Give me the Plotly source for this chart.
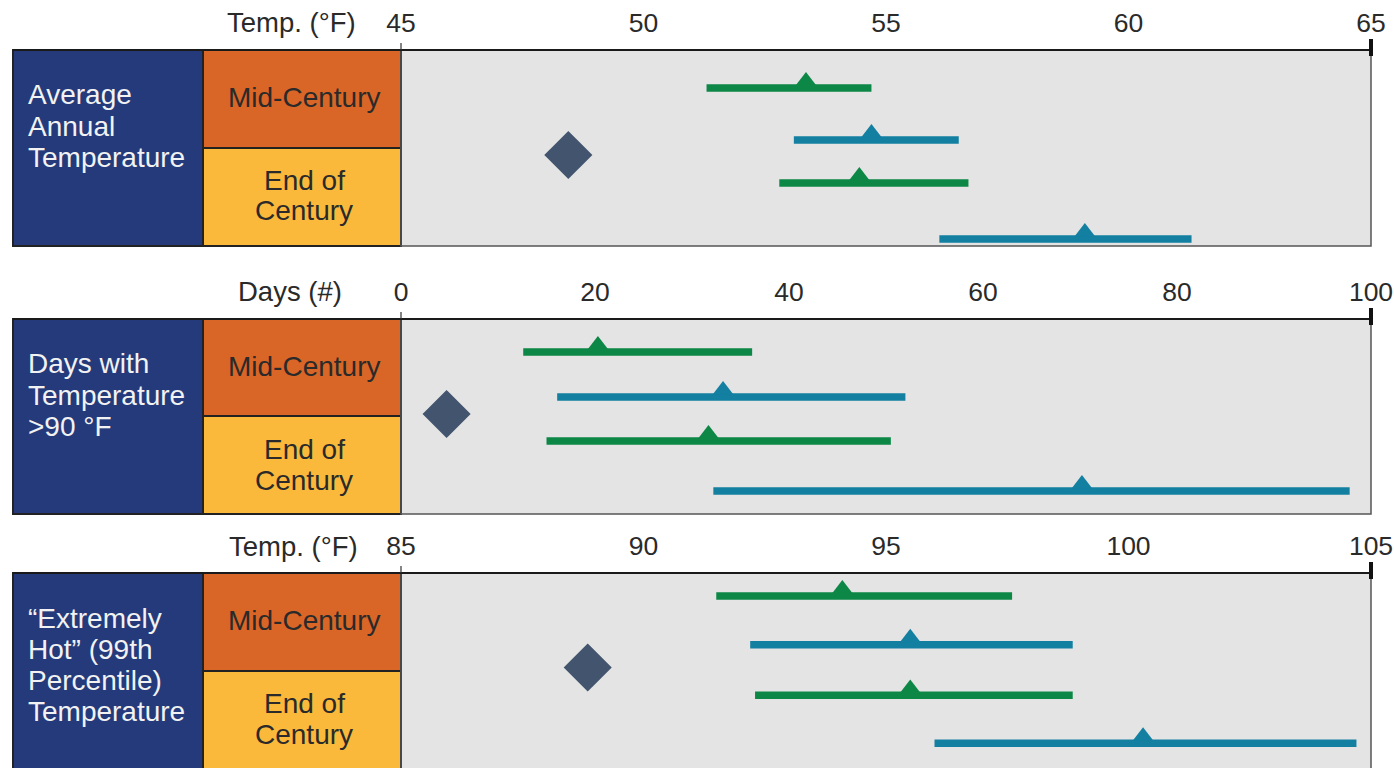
import plotly.graph_objects as go

# ---------------------------------------------------------------- data
panel_titles = [
    ["Average", "Annual", "Temperature"],
    ["Days with", "Temperature", ">90 °F"],
    ["“Extremely", "Hot” (99th", "Percentile)", "Temperature"],
]
axis_titles = ["Temp. (°F)", "Days (#)", "Temp. (°F)"]
period_mid = "Mid-Century"
period_end = ["End of", "Century"]

axis_ranges = [(45, 65), (0, 100), (85, 105)]
tick_values = [
    [45, 50, 55, 60, 65],
    [0, 20, 40, 60, 80, 100],
    [85, 90, 95, 100, 105],
]

# observed baseline per indicator
baseline = [48.45, 4.7, 88.85]

# projection rows per indicator:
# mid-century lower, mid-century higher, end-of-century lower, end-of-century higher
range_low = [
    [51.3, 53.1, 52.8, 56.1],
    [12.6, 16.1, 15.0, 32.2],
    [91.5, 92.2, 92.3, 96.0],
]
range_high = [
    [54.7, 56.5, 56.7, 61.3],
    [36.2, 52.0, 50.5, 97.8],
    [97.6, 98.85, 98.85, 104.7],
]
range_median = [
    [53.35, 54.7, 54.45, 59.1],
    [20.3, 33.2, 31.7, 70.2],
    [94.1, 95.5, 95.5, 100.3],
]
scenario_of_row = ["lower", "higher", "lower", "higher"]

# ---------------------------------------------------------------- layout / style
W, H = 1394, 768
FONT = "Liberation Sans, Arial, sans-serif"
FS = 28

C_TITLE_BOX = "#243a7b"
C_MID_BOX = "#d96627"
C_END_BOX = "#fbb93b"
C_PLOT_BG = "#e4e4e4"
C_SCEN = {"lower": "#0c8746", "higher": "#137fa1"}
C_BASE = "#42546e"
C_TEXT = "#2a2a2a"

X_LEFT, X_SPLIT, X_PLOT0, X_PLOT1 = 13, 203, 401, 1371
panel_top = [50, 319, 573]
panel_bot = [246, 514, 769]
split_y = [148, 416, 671]
ROW_Y = [[38, 90, 133, 189], [33, 78, 122, 172], [23, 72, 123, 171]]
BASE_Y = [105, 95, 95]
TITLE_RIGHT = [358, 344, 360]
TRI_LIFT = 7


def px(x):
    return x / W


def py(y):
    return 1 - y / H


fig = go.Figure()
shapes = []
annotations = []

for i in range(3):
    top = panel_top[i]
    height = panel_bot[i] - panel_top[i]
    sfx = "" if i == 0 else str(i + 1)
    xa, ya = "x" + sfx, "y" + sfx
    lo, hi = axis_ranges[i]

    # projected ranges as thick horizontal bars with a median marker
    for r in range(4):
        col = C_SCEN[scenario_of_row[r]]
        y_row = ROW_Y[i][r]
        fig.add_trace(go.Scatter(
            x=[range_low[i][r], range_high[i][r]], y=[y_row, y_row],
            mode="lines", line=dict(color=col, width=7.5),
            xaxis=xa, yaxis=ya, showlegend=False, hoverinfo="skip"))
        fig.add_trace(go.Scatter(
            x=[range_median[i][r]], y=[y_row - TRI_LIFT],
            mode="markers",
            marker=dict(symbol="triangle-up", size=18, color=col, line=dict(width=0)),
            xaxis=xa, yaxis=ya, showlegend=False, hoverinfo="skip"))

    # observed baseline
    fig.add_trace(go.Scatter(
        x=[baseline[i]], y=[BASE_Y[i]], mode="markers",
        marker=dict(symbol="diamond", size=37, color=C_BASE, line=dict(width=0)),
        xaxis=xa, yaxis=ya, showlegend=False, hoverinfo="skip"))

    dom_y = [max(py(panel_bot[i]), 0), py(top)]
    fig.layout["xaxis" + sfx] = dict(
        domain=[px(X_PLOT0), px(X_PLOT1)], range=[lo, hi], anchor=ya,
        side="top", tickvals=tick_values[i], ticks="", showgrid=False,
        zeroline=False, showline=False, fixedrange=True, automargin=False,
        tickfont=dict(family=FONT, size=26.5, color=C_TEXT),
        ticklabelstandoff=12)
    fig.layout["yaxis" + sfx] = dict(
        domain=dom_y, range=[height, 0], anchor=xa, visible=False,
        showgrid=False, zeroline=False, fixedrange=True, automargin=False)

    split = split_y[i]
    # label boxes
    shapes.append(dict(type="rect", xref="paper", yref="paper",
                       x0=px(X_LEFT), x1=px(X_SPLIT), y0=py(panel_bot[i]), y1=py(top),
                       fillcolor=C_TITLE_BOX, line=dict(color="#222", width=2), layer="below"))
    shapes.append(dict(type="rect", xref="paper", yref="paper",
                       x0=px(X_SPLIT), x1=px(X_PLOT0), y0=py(split), y1=py(top),
                       fillcolor=C_MID_BOX, line=dict(color="#222", width=2), layer="below"))
    shapes.append(dict(type="rect", xref="paper", yref="paper",
                       x0=px(X_SPLIT), x1=px(X_PLOT0), y0=py(panel_bot[i]), y1=py(split),
                       fillcolor=C_END_BOX, line=dict(color="#222", width=2), layer="below"))
    # plot frame
    shapes.append(dict(type="rect", xref="paper", yref="paper",
                       x0=px(X_PLOT0), x1=px(X_PLOT1), y0=py(panel_bot[i]), y1=py(top),
                       fillcolor="rgba(0,0,0,0)", line=dict(color="#555", width=1.5)))
    # top axis line across the whole panel
    shapes.append(dict(type="line", xref="paper", yref="paper",
                       x0=px(X_LEFT), x1=px(X_PLOT1), y0=py(top), y1=py(top),
                       line=dict(color="#1a1a1a", width=2)))
    # end ticks
    shapes.append(dict(type="line", xref="paper", yref="paper",
                       x0=px(X_PLOT0), x1=px(X_PLOT0), y0=py(top), y1=py(top - 7),
                       line=dict(color="#333", width=1.2)))
    shapes.append(dict(type="line", xref="paper", yref="paper",
                       x0=px(X_PLOT1), x1=px(X_PLOT1), y0=py(top + 6), y1=py(top - 11),
                       line=dict(color="#111", width=4)))

    # axis title
    annotations.append(dict(text=axis_titles[i], xref="paper", yref="paper",
                            x=px(TITLE_RIGHT[i]), y=py(top - 27), xanchor="right",
                            yanchor="middle", showarrow=False,
                            font=dict(family=FONT, size=FS - 0.5, color=C_TEXT)))
    # indicator title lines
    for k, line in enumerate(panel_titles[i]):
        annotations.append(dict(text=line, xref="paper", yref="paper",
                                x=px(26), y=py(top + 45 + 31 * k), xanchor="left",
                                yanchor="middle", showarrow=False,
                                font=dict(family=FONT, size=FS, color="#f2f2f2")))
    # period labels
    cx = px((X_SPLIT + X_PLOT0) / 2 + 2)
    annotations.append(dict(text=period_mid, xref="paper", yref="paper",
                            x=cx, y=py(top + 47), xanchor="center", yanchor="middle",
                            showarrow=False, font=dict(family=FONT, size=FS, color=C_TEXT)))
    for k, line in enumerate(period_end):
        annotations.append(dict(text=line, xref="paper", yref="paper",
                                x=cx, y=py(top + 130 + 31 * k), xanchor="center",
                                yanchor="middle", showarrow=False,
                                font=dict(family=FONT, size=FS, color=C_TEXT)))

fig.update_layout(
    width=W, height=H, margin=dict(l=0, r=0, t=0, b=0, pad=0, autoexpand=False),
    paper_bgcolor="white", plot_bgcolor=C_PLOT_BG,
    shapes=shapes, annotations=annotations, showlegend=False,
    font=dict(family=FONT, color=C_TEXT),
)

fig.write_html("out.html", config={"displayModeBar": False})
